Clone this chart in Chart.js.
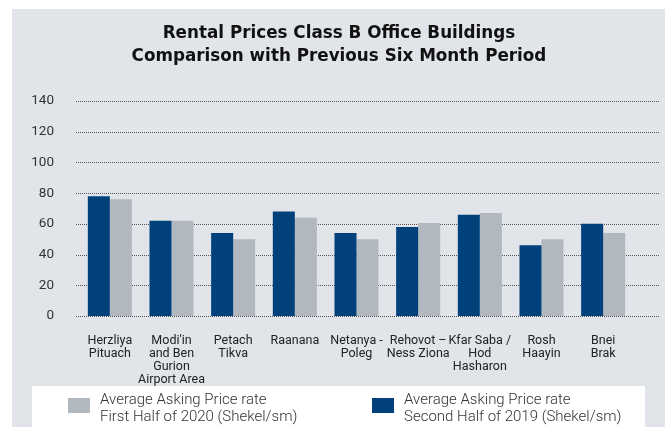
<!DOCTYPE html>
<html>
<head>
<meta charset="utf-8">
<script src="https://cdn.jsdelivr.net/npm/chart.js@4.4.1/dist/chart.umd.min.js"></script>
<style>
  html, body { margin: 0; padding: 0; background: #fff; }
  #wrap { width: 672px; height: 427px; position: relative; }
</style>
</head>
<body>
<div id="wrap"><canvas id="rentChart" width="672" height="427"></canvas></div>
<script>
// chart data
const titleLines = ['Rental Prices Class B Office Buildings', 'Comparison with Previous Six Month Period'];
const regions = [
    ['Herzliya', 'Pituach'],
    ['Modi\'in', 'and Ben', 'Gurion', 'Airport Area'],
    ['Petach', 'Tikva'],
    ['Raanana'],
    ['Netanya -', 'Poleg'],
    ['Rehovot \u2013', 'Ness Ziona'],
    ['Kfar Saba /', 'Hod', 'Hasharon'],
    ['Rosh', 'Haayin'],
    ['Bnei', 'Brak']
];
const secondHalf2019 = [78, 62, 54, 68, 54, 58, 66, 46, 60];
const firstHalf2020 = [76, 62, 50, 64, 50, 60.5, 67, 50, 54];
const label2019 = ['Average Asking Price rate', 'Second Half of 2019 (Shekel/sm)'];
const label2020 = ['Average Asking Price rate', 'First Half of 2020 (Shekel/sm)'];
const yTicks = [0, 20, 40, 60, 80, 100, 120, 140];

const NAVY = '#01417b';
const GREY = '#b1b8bf';
const PANEL = '#e1e4e8';

// panel background, title, dotted grid and legend box
const decorPlugin = {
    id: 'decor',
    beforeDraw(chart) {
        const c = chart.ctx;
        c.save();
        c.fillStyle = '#fff';
        c.fillRect(0, 0, chart.width, chart.height);
        c.fillStyle = PANEL;
        c.fillRect(12, 9, 653, 418);
        c.fillStyle = '#fff';
        c.fillRect(32, 386, 613, 41);

        // title
        c.fillStyle = '#111';
        c.font = 'bold 16.8px "DejaVu Sans"';
        c.textAlign = 'center';
        c.textBaseline = 'middle';
        c.fillText(titleLines[0], 339, 34);
        c.fillText(titleLines[1], 339, 57);
        c.restore();
    },
    beforeDatasetsDraw(chart) {
        const c = chart.ctx;
        const y = chart.scales.y;
        c.save();
        c.strokeStyle = '#555';
        c.lineWidth = 1;
        c.setLineDash([1, 1]);
        yTicks.forEach(v => {
            const py = Math.round(y.getPixelForValue(v)) + 0.5;
            c.beginPath();
            c.moveTo(76, py);
            c.lineTo(660, py);
            c.stroke();
        });
        c.restore();
    },
    afterDraw(chart) {
        const c = chart.ctx;
        c.save();
        c.font = '300 15px Roboto';
        c.textBaseline = 'middle';
        // grey first, navy second (as in the picture)
        const items = [
            { color: GREY, text: label2020, sx: 68, tx: 100 },
            { color: NAVY, text: label2019, sx: 372, tx: 404 }
        ];
        items.forEach(it => {
            c.fillStyle = it.color;
            c.fillRect(it.sx, 398, 22, 15);
            c.fillStyle = '#333';
            c.fillText(it.text[0], it.tx, 400);
            c.fillText(it.text[1], it.tx, 417);
        });
        c.restore();
    }
};

new Chart(document.getElementById('rentChart'), {
    type: 'bar',
    data: {
        labels: regions,
        datasets: [
            {
                label: label2019.join(' '),
                data: secondHalf2019,
                backgroundColor: NAVY,
                categoryPercentage: 0.714,
                barPercentage: 1
            },
            {
                label: label2020.join(' '),
                data: firstHalf2020,
                backgroundColor: GREY,
                categoryPercentage: 0.714,
                barPercentage: 1
            }
        ]
    },
    options: {
        responsive: false,
        animation: false,
        layout: { padding: { top: 101, right: 38, left: 0, bottom: 0 } },
        plugins: {
            legend: { display: false },
            title: { display: false },
            tooltip: { enabled: false }
        },
        scales: {
            x: {
                grid: { display: false },
                border: { display: false },
                ticks: {
                    color: '#222',
                    font: { family: 'Roboto', size: 12.5, lineHeight: 1.05 },
                    padding: 10,
                    maxRotation: 0,
                    autoSkip: false
                },
                afterFit(scale) { scale.height = 111; }
            },
            y: {
                min: 0,
                max: 140,
                grid: { display: false },
                border: { display: false },
                ticks: {
                    stepSize: 20,
                    color: '#333',
                    font: { family: 'Roboto', size: 13.5 },
                    padding: 17
                },
                afterFit(scale) { scale.width = 79; }
            }
        }
    },
    plugins: [decorPlugin]
});
</script>
</body>
</html>
